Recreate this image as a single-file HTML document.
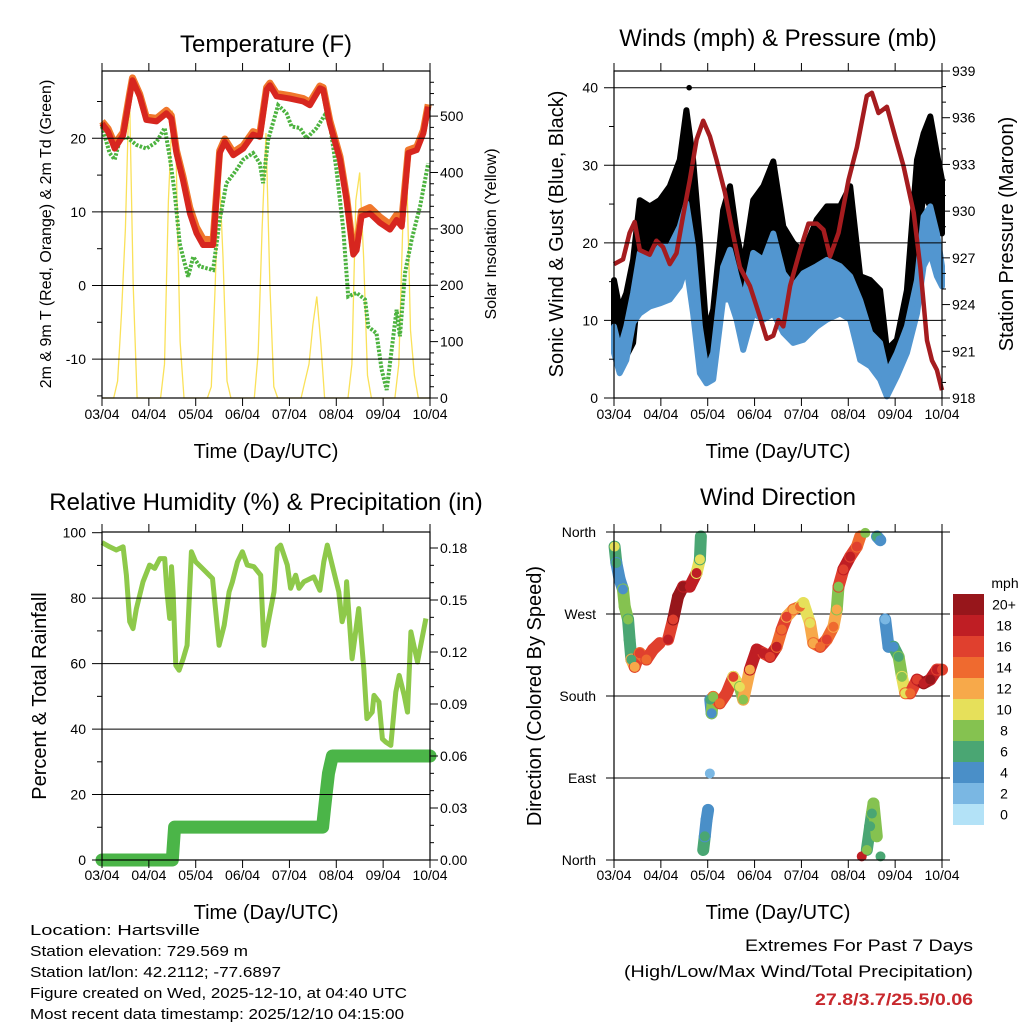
<!DOCTYPE html>
<html><head><meta charset="utf-8"><title>Station Meteogram</title>
<style>
html,body{margin:0;padding:0;background:#fff;}
svg{display:block;font-family:"Liberation Sans",Arial,sans-serif;}
</style></head>
<body>
<svg id="chart" xmlns="http://www.w3.org/2000/svg" width="1024" height="1024" viewBox="0 0 1024 1024">
<rect x="0" y="0" width="1024" height="1024" fill="#fff"/>
<g id="p1"></g>
<g id="p2"></g>
<g id="p3"></g>
<g id="p4"></g>

<text x="266" y="52" font-size="24" text-anchor="middle">Temperature (F)</text>
<text x="778" y="46" font-size="24" text-anchor="middle">Winds (mph) &amp; Pressure (mb)</text>
<text x="266" y="510" font-size="24" text-anchor="middle">Relative Humidity (%) &amp; Precipitation (in)</text>
<text x="778" y="505" font-size="24" text-anchor="middle">Wind Direction</text>

<text x="266" y="458" font-size="20" text-anchor="middle">Time (Day/UTC)</text>
<text x="778" y="458" font-size="20" text-anchor="middle">Time (Day/UTC)</text>
<text x="266" y="919" font-size="20" text-anchor="middle">Time (Day/UTC)</text>
<text x="778" y="919" font-size="20" text-anchor="middle">Time (Day/UTC)</text>

<text transform="translate(51,234) rotate(-90)" font-size="16" text-anchor="middle">2m &amp; 9m T (Red, Orange) &amp; 2m Td (Green)</text>
<text transform="translate(496,234) rotate(-90)" font-size="16" text-anchor="middle">Solar Insolation (Yellow)</text>
<text transform="translate(563,234) rotate(-90)" font-size="20" text-anchor="middle">Sonic Wind &amp; Gust (Blue, Black)</text>
<text transform="translate(1013,234) rotate(-90)" font-size="20" text-anchor="middle">Station Pressure (Maroon)</text>
<text transform="translate(46,696) rotate(-90)" font-size="20" text-anchor="middle">Percent &amp; Total Rainfall</text>
<text transform="translate(541,696) rotate(-90)" font-size="20" text-anchor="middle">Direction (Colored By Speed)</text>

<g font-size="15">
<text x="30" y="935" textLength="170" lengthAdjust="spacingAndGlyphs">Location: Hartsville</text>
<text x="30" y="956" textLength="218" lengthAdjust="spacingAndGlyphs">Station elevation: 729.569 m</text>
<text x="30" y="977" textLength="251" lengthAdjust="spacingAndGlyphs">Station lat/lon: 42.2112; -77.6897</text>
<text x="30" y="998" textLength="377" lengthAdjust="spacingAndGlyphs">Figure created on Wed, 2025-12-10, at 04:40 UTC</text>
<text x="30" y="1019" textLength="374" lengthAdjust="spacingAndGlyphs">Most recent data timestamp: 2025/12/10 04:15:00</text>
</g>
<text x="973" y="951" font-size="17" text-anchor="end" textLength="228" lengthAdjust="spacingAndGlyphs">Extremes For Past 7 Days</text>
<text x="973" y="977" font-size="17" text-anchor="end" textLength="349" lengthAdjust="spacingAndGlyphs">(High/Low/Max Wind/Total Precipitation)</text>
<text x="973" y="1005" font-size="17" font-weight="bold" fill="#c8282d" text-anchor="end" textLength="158" lengthAdjust="spacingAndGlyphs">27.8/3.7/25.5/0.06</text>
</svg>
<script>
// ---------- data ----------
const dayLabels = ["03/04","04/04","05/04","06/04","07/04","08/04","09/04","10/04"];
const tempHours = [0,3.1,6.5,10.8,14.2,15.6,19.3,22.7,27.9,33.0,35.5,38.1,41.5,45.0,48.4,51.8,56.9,60.3,62.9,67.2,72.3,77.4,80.8,84.3,86.0,89.4,96.2,103.1,106.5,111.6,113.3,116.7,121.9,125.3,128.7,130.4,132.9,137.2,142.4,147.5,150.9,153.5,156.9,161.2,164.6,167.1];
const temp2m = [22.0,20.9,18.6,20.4,25.7,27.9,25.7,22.5,22.3,23.4,22.7,18.0,14.3,9.8,7.1,5.5,5.5,18.0,19.5,17.7,18.6,20.5,20.2,26.6,27.2,25.7,25.4,25.0,24.5,26.8,26.6,22.0,17.1,11.6,4.2,4.8,9.4,9.8,8.5,7.6,8.9,8.0,18.0,18.4,20.7,24.3];
const temp9m = [22.3,21.3,19.2,20.8,26.1,28.2,26.0,22.9,22.7,23.8,23.1,18.4,14.8,10.5,7.9,6.3,6.2,18.3,19.9,18.1,19.0,20.9,20.6,26.9,27.5,26.1,25.8,25.4,24.9,27.1,26.9,22.4,17.5,12.0,4.6,5.3,10.1,10.6,9.3,8.3,9.6,8.7,18.4,18.8,21.1,24.6];
const dewHours = [0,3.9,6.5,9.1,12.5,17.6,22.7,27.9,32.1,34.7,37.3,39.8,44.1,46.7,50.1,56.9,60.3,63.7,68.9,72.3,77.4,80.8,82.5,85.1,90.2,94.5,97.1,101.4,104.8,109.9,114.2,116.7,120.1,123.6,126.1,130.4,134.7,136.4,140.6,143.2,145.8,149.2,150.9,152.6,155.2,158.6,162.9,167.1];
const dewpoint = [21.6,18.0,17.1,19.8,20.2,19.1,18.6,19.5,21.4,17.5,12.5,5.7,1.2,3.9,2.6,2.1,8.9,13.9,15.7,17.1,18.0,16.6,13.9,19.8,24.5,23.4,21.6,21.4,20.0,21.4,23.2,22.0,15.7,7.6,-1.5,-1.0,-1.9,-5.6,-6.5,-11.4,-14.2,-6.9,-3.3,-6.9,1.7,6.2,10.7,16.6];
const solarStepHours = 2;
const solar = [0,0,0,0,30,150,300,560,200, 0,0,0,0,0,0,0, 60,350,510,420,100, 0,0,0,0,0,0,0, 20,200,410,250,30, 0,0,0,0,0,0,0, 80,300,470,200,20, 0,0,0,0,0,0,0, 30,60,130,180,100,0, 0,0,0,0,0,0, 60,350,400,250,40, 0,0,0,0,0,0,0, 60,300,410,120,40, 0,0,0,0];
const tempTicks = [-10,0,10,20];
const solarTicks = [0,100,200,300,400,500];

const presHours = [0,4.6,8.0,10.6,13.2,18.3,21.7,25.1,28.6,32.0,35.4,38.8,42.3,45.7,49.1,52.5,56.8,60.2,64.5,69.6,74.8,78.2,81.6,84.2,86.7,90.2,95.3,99.6,103.9,107.3,110.7,115.0,120.1,124.4,129.5,132.1,135.5,139.8,144.0,148.3,153.5,156.9,160.3,162.9,165.4,168];
const pressure = [926.6,926.9,928.6,929.3,927.5,927.2,928.1,927.7,926.6,927.3,929.7,932.0,934.6,935.8,934.8,933.3,931.2,929.0,926.4,925.2,923.2,921.8,922.0,923.0,922.6,925.2,927.5,929.2,929.2,928.8,927.1,928.6,932.0,934.1,937.4,937.6,936.3,936.7,934.8,932.9,929.9,926.4,921.7,920.4,919.8,918.5];
const windHours = [0,2.9,6.3,9.8,13.2,18.3,23.4,28.6,33.7,37.1,40.5,44.0,47.4,50.8,55.9,59.4,62.8,66.2,71.3,76.5,81.6,86.7,91.8,97.0,103.8,109.0,115.8,121.0,126.1,131.2,136.3,139.8,144.9,150.0,155.2,158.6,162.0,165.4,168];
const gustHigh = [15.2,11.4,13.5,17.8,25.5,24.7,25.5,27.3,30.7,37.1,30.7,20.4,8.4,11.4,24.2,27.3,21.2,17.0,25.5,27.3,30.5,22.1,20.0,18.7,23.0,24.7,24.7,27.3,15.7,15.2,13.9,6.2,7.5,13.9,30.7,34.1,36.3,31.5,28.1];
const gustLow = [6.7,5.8,5.4,7.1,16.1,17.0,17.8,17.0,19.5,25.5,19.5,7.9,2.4,4.1,15.7,17.0,11.4,9.2,18.7,17.0,15.7,13.5,12.7,12.7,14.4,13.5,14.4,15.7,8.4,6.7,5.8,2.4,4.1,7.5,19.5,26.4,24.7,23.0,21.2];
const windHigh = [9.2,6.2,9.2,13.5,18.7,17.8,19.5,19.5,22.1,25.1,19.5,9.2,3.6,5.8,16.9,19.1,15.7,12.6,18.7,17.8,21.2,16.1,14.4,16.1,17.0,17.8,17.0,15.7,12.6,8.4,7.1,3.2,5.8,9.2,15.2,23.4,24.7,21.2,17.0];
const windLow = [5.8,3.2,4.9,9.7,10.9,11.8,12.2,12.7,14.4,17.0,10.9,3.2,1.9,2.4,12.7,12.7,10.1,6.2,10.9,10.1,10.9,8.4,7.1,7.5,9.2,10.1,10.9,10.1,4.9,4.1,2.4,0.2,2.8,5.8,10.9,17.0,18.7,15.7,14.4];
const peakGustHour = [38.5];
const peakGustValue = [40.0];
const windTicks = [0,10,20,30,40];
const presTicks = [918,921,924,927,930,933,936,939];

const rhHours = [0,3.9,7.3,10.8,12.5,14.2,15.9,17.6,21.0,24.4,27.0,29.6,32.1,33.3,34.7,35.6,36.4,37.8,39.5,41.6,43.6,45.8,48.0,51.4,56.6,60.0,62.6,65.1,66.8,69.4,71.9,74.4,77.8,81.3,83.0,85.5,88.1,89.8,91.5,94.9,96.6,99.2,100.9,103.4,108.5,111.6,113.6,115.4,117.9,121.3,123.0,124.7,125.3,128.1,131.5,134.1,135.7,138.4,139.3,141.9,143.6,145.4,147.9,150.5,152.2,154.8,156.5,158.2,161.6,165.9];
const humidity = [97.0,95.7,94.7,95.7,87.0,72.8,70.7,76.8,85.0,90.1,89.1,92.1,92.1,81.9,73.8,89.6,81.9,59.5,58.0,61.5,65.6,94.2,91.1,89.1,86.0,65.6,71.7,81.9,85.0,91.1,94.2,90.1,89.6,87.0,65.6,73.8,81.9,95.2,96.2,90.1,83.0,87.0,83.0,85.0,86.5,82.4,91.1,96.2,90.1,81.9,72.8,76.8,85.0,61.5,76.8,58.5,43.2,45.2,50.3,48.3,37.0,36.0,35.0,51.3,56.4,50.3,45.2,69.7,60.5,73.8];
const precipHours = [0,36,36.6,37.2,113,114,115,116,117,118,168];
const precipTotal = [0,0,0.01,0.019,0.019,0.03,0.04,0.05,0.055,0.06,0.06];
const rhTicks = [0,20,40,60,80,100];
const precipTicks = ["0.00","0.03","0.06","0.09","0.12","0.15","0.18"];

const dirHours = [0.3,1.2,2.9,4.6,5.5,7.2,8.0,8.9,10.6,13.2,16.6,20.0,23.4,27.7,30.3,32.8,35.4,38.8,42.3,44.0,44.5,45.7,46.5,47.4,48.2,49.1,49.3,50.0,50.8,54.2,57.7,61.1,64.5,66.2,69.6,73.1,76.5,79.9,83.3,85.9,88.4,91.9,95.3,97.0,100.4,102.1,105.6,109.0,112.4,114.1,115.0,117.5,121.0,124.4,126.1,126.9,128.7,129.5,131.2,132.1,132.9,134.6,134.7,136.4,136.5,138.9,140.6,143.2,145.8,147.5,149.2,151.7,155.2,158.6,162.0,165.4,168.0];
const direction = [344,326,308,297,278,264,242,220,212,227,220,231,238,242,264,289,300,300,315,330,355,11,26,44,55,95,176,161,179,172,183,201,190,176,209,231,227,223,234,253,267,275,278,282,260,238,234,242,256,275,300,319,333,344,355,4,359,11,37,51,62,26,355,351,4,264,234,234,223,201,183,183,198,194,198,209,209];
const dirSpeed = [10,6,4,4,8,8,6,6,12,16,14,16,16,18,16,20,20,18,18,10,6,6,6,4,4,2,6,4,8,14,16,16,10,8,12,18,18,16,18,14,16,12,14,10,10,12,14,16,14,12,8,16,18,16,14,18,8,8,6,6,8,8,6,4,6,2,4,4,6,8,10,14,16,18,20,18,16];
const dirTickLabels = ["North","East","South","West","North"];
const speedLabels = ["0","2","4","6","8","10","12","14","16","18","20+"];
const speedColors = ["#b3e2f7","#7ab7e3","#4a8fc8","#4aa673","#85c250","#e6e05a","#f7a94a","#ef6a2f","#e0402e","#bf1e24","#97161b"];

// ---------- helpers ----------
const NS = "http://www.w3.org/2000/svg";
function mk(parent, tag, attrs){const e=document.createElementNS(NS,tag);for(const k in attrs)e.setAttribute(k,attrs[k]);parent.appendChild(e);return e;}
function lin(d0,d1,r0,r1){return v=>r0+(v-d0)*(r1-r0)/(d1-d0);}
function pathOf(xs,ys,fx,fy){return xs.map((x,i)=>(i?"L":"M")+fx(x).toFixed(1)+","+fy(ys[i]).toFixed(1)).join("");}

function frame(g,x0,x1,y0,y1,labelY){
  const fx=lin(0,168,x0,x1);
  dayLabels.forEach((lab,i)=>{
    const x=fx(i*24);
    const t=mk(g,"line",{x1:x,x2:x,y1:y1,y2:y1+8,stroke:"#000","stroke-width":1});
    
    
    const tt=mk(g,"line",{x1:x,x2:x,y1:y0,y2:y0-8,stroke:"#000","stroke-width":1});
    
    
    const tx=mk(g,"text",{x:x,y:labelY,"font-size":14,"text-anchor":"middle"});
    tx.textContent=lab;
    
    
  });
  const b=mk(g,"rect",{x:x0,y:y0,width:x1-x0,height:y1-y0,fill:"none",stroke:"#000","stroke-width":1.2});
  
  
  return fx;
}
function hgrid(g,y,xa,xb){
  const l=mk(g,"line",{x1:xa,x2:xb,y1:y,y2:y,stroke:"#000","stroke-width":1});
  
  
}
function ytick(g,x,y,len){
  const l=mk(g,"line",{x1:x,x2:x+len,y1:y,y2:y,stroke:"#000","stroke-width":1});
  
  
}
function ylabel(g,x,y,txt,anchor){
  const t=mk(g,"text",{x:x,y:y+5,"font-size":14,"text-anchor":anchor});
  t.textContent=txt;
  
  
}

// ---------- panel 1: temperature ----------
(function(){
  const g=document.getElementById("p1");
  const X0=102,X1=430,Y0=71,Y1=398;
  const ty=lin(0,20,285.5,138.3), sy=lin(0,580,398,71);
  const fx=lin(0,168,X0,X1);
  const sp=mk(g,"path",{d:pathOf(solar.map((v,i)=>i*solarStepHours),solar,fx,sy),fill:"none",stroke:"#f9dc3c","stroke-width":1.3,"stroke-opacity":0.85});
  
  
  const dp=mk(g,"path",{d:pathOf(dewHours,dewpoint,fx,ty),fill:"none",stroke:"#4db340","stroke-width":4,"stroke-dasharray":"2.5 1.5"});
  
  
  const op=mk(g,"path",{d:pathOf(tempHours,temp9m,fx,ty),fill:"none",stroke:"#f0772c","stroke-width":7,"stroke-linejoin":"round"});
  
  
  const rp=mk(g,"path",{d:pathOf(tempHours,temp2m,fx,ty),fill:"none",stroke:"#d7261f","stroke-width":6,"stroke-linejoin":"round"});
  
  
  tempTicks.forEach(v=>{hgrid(g,ty(v),X0-10,X1);ylabel(g,X0-16,ty(v),String(v),"end");});
  [-15,-5,5,15,25].forEach(v=>ytick(g,X0,ty(v),-5));
  solarTicks.forEach(v=>{ytick(g,X1,sy(v),8);ylabel(g,X1+10,sy(v),String(v),"start");});
  for(let v=20;v<580;v+=20){ if(v%100) ytick(g,X1,sy(v),4); }
  frame(g,X0,X1,Y0,Y1,419);
})();

// ---------- panel 2: winds & pressure ----------
(function(){
  const g=document.getElementById("p2");
  const X0=614,X1=942,Y0=71,Y1=398;
  const wy=lin(0,40,398,87.7), py=lin(918,939,398,71);
  const fx=lin(0,168,X0,X1);
  function band(hi,lo,color,name){
    const d=pathOf(windHours,hi,fx,wy)+pathOf(windHours.slice().reverse(),lo.slice().reverse(),fx,wy).replace("M","L")+"Z";
    const p=mk(g,"path",{d:d,fill:color,stroke:color,"stroke-width":6,"stroke-linejoin":"round"});
    
    
  }
  band(gustHigh,gustLow,"#000","gust-band");
  band(windHigh,windLow,"#5296d0","wind-band");
  peakGustHour.forEach((h,i)=>{
    const c=mk(g,"circle",{cx:fx(h),cy:wy(peakGustValue[i]),r:2.8,fill:"#000"});
    
    
  });
  const pp=mk(g,"path",{d:pathOf(presHours,pressure,fx,py),fill:"none",stroke:"#a51c1f","stroke-width":4.5,"stroke-linejoin":"round"});
  
  
  windTicks.forEach(v=>{ if(v>0) hgrid(g,wy(v),X0-10,X1); else ytick(g,X0,wy(v),-10); ylabel(g,X0-16,wy(v),String(v),"end");});
  [5,15,25,35].forEach(v=>ytick(g,X0,wy(v),-5));
  presTicks.forEach(v=>{ytick(g,X1,py(v),8);ylabel(g,X1+10,py(v),String(v),"start");});
  for(let v=919;v<939;v++){ if((v-918)%3) ytick(g,X1,py(v),4); }
  frame(g,X0,X1,Y0,Y1,419);
})();

// ---------- panel 3: humidity & precip ----------
(function(){
  const g=document.getElementById("p3");
  const X0=102,X1=430,Y0=532,Y1=860;
  const ry=lin(0,100,860,532.7), qy=lin(0,0.18,860,548);
  const fx=lin(0,168,X0,X1);
  const pr=mk(g,"path",{d:pathOf(precipHours,precipTotal,fx,qy),fill:"none",stroke:"#4bb548","stroke-width":13,"stroke-linecap":"round","stroke-linejoin":"round"});
  
  
  const rh=mk(g,"path",{d:pathOf(rhHours,humidity,fx,ry),fill:"none",stroke:"#8ec94a","stroke-width":5,"stroke-linejoin":"round"});
  
  
  rhTicks.forEach(v=>{ if(v>0&&v<100) hgrid(g,ry(v),X0-10,X1); else ytick(g,X0,ry(v),-10); ylabel(g,X0-16,ry(v),String(v),"end");});
  [10,30,50,70,90].forEach(v=>ytick(g,X0,ry(v),-5));
  precipTicks.forEach(s=>{const v=parseFloat(s);ytick(g,X1,qy(v),8);ylabel(g,X1+10,qy(v),s,"start");});
  for(let k=1;k<19;k++){ if(k%3) ytick(g,X1,qy(k*0.01),4); }
  frame(g,X0,X1,Y0,Y1,880);
})();

// ---------- panel 4: wind direction ----------
(function(){
  const g=document.getElementById("p4");
  const X0=614,X1=942,Y0=532,Y1=860;
  const dy=lin(0,360,860,532);
  const fx=lin(0,168,X0,X1);
  dirTickLabels.forEach((lab,i)=>{const y=dy(i*90);hgrid(g,y,X0-8,X1+8);ylabel(g,X0-18,y,lab,"end");});
  const col=s=>speedColors[Math.min(10,Math.floor(s/2))];
  for(let i=1;i<dirHours.length;i++){
    if(Math.abs(direction[i]-direction[i-1])<40 && dirHours[i]-dirHours[i-1]<4){
      const s=mk(g,"line",{x1:fx(dirHours[i-1]),y1:dy(direction[i-1]),x2:fx(dirHours[i]),y2:dy(direction[i]),stroke:col(dirSpeed[i]),"stroke-width":12,"stroke-linecap":"round"});
      
      
    }
  }
  dirHours.forEach((h,i)=>{
    const c=mk(g,"circle",{cx:fx(h),cy:dy(direction[i]),r:5,fill:col(dirSpeed[i])});
    
    
  });
  frame(g,X0,X1,Y0,Y1,880);
  // colorbar
  const bx=953,by=594,bh=21;
  speedColors.forEach((c,i)=>{
    const y=by+(10-i)*bh;
    const r=mk(g,"rect",{x:bx,y:y,width:31,height:bh,fill:c});
    
    
    const t=mk(g,"text",{x:1004,y:y+bh/2+5,"font-size":14,"text-anchor":"middle"});
    t.textContent=speedLabels[i];
    
    
  });
  const u=mk(g,"text",{x:1005,y:588,"font-size":14,"text-anchor":"middle"});
  u.textContent="mph";
  
  
})();
</script>
</body></html>
